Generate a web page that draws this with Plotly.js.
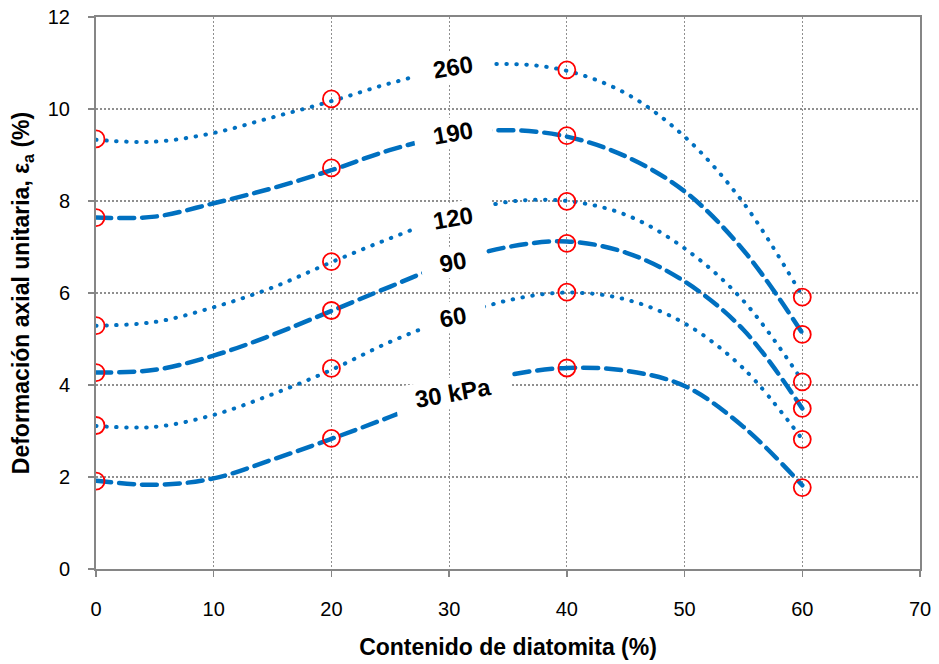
<!DOCTYPE html>
<html>
<head>
<meta charset="utf-8">
<script src="https://cdn.plot.ly/plotly-3.0.1.min.js"></script>
<style>
  html, body { margin: 0; padding: 0; background: #fff; }
  #chart { width: 939px; height: 664px; }
  .js-line { stroke-linecap: round; }
</style>
</head>
<body>
<div id="chart"></div>
<script>
// Measured points (red circles)
const pointX = [0, 20, 40, 60];
const pts260 = [9.35, 10.22, 10.85, 5.91];
const pts190 = [7.64, 8.72, 9.42, 5.10];
const pts120 = [5.29, 6.68, 7.99, 4.07];
const pts90  = [4.27, 5.62, 7.08, 3.49];
const pts60  = [3.12, 4.36, 6.02, 2.82];
const pts30  = [1.91, 2.84, 4.37, 1.77];

// Trend curves
const curveX = [0, 5, 10, 15, 20, 25, 30, 35, 40, 45, 50, 55, 60];
const curve260 = [9.33, 9.29, 9.48, 9.82, 10.17, 10.56, 10.87, 10.98, 10.83, 10.34, 9.40, 7.96, 5.93];
const curve190 = [7.64, 7.66, 7.95, 8.28, 8.67, 9.11, 9.42, 9.54, 9.40, 8.97, 8.21, 6.93, 5.13];
const curve120 = [5.29, 5.37, 5.69, 6.12, 6.67, 7.19, 7.66, 7.98, 8.00, 7.70, 6.97, 5.83, 4.09];
const curve90  = [4.27, 4.33, 4.64, 5.09, 5.61, 6.14, 6.65, 7.00, 7.12, 6.88, 6.25, 5.20, 3.49];
const curve60  = [3.11, 3.09, 3.35, 3.80, 4.33, 4.94, 5.44, 5.84, 6.01, 5.86, 5.34, 4.36, 2.82];
const curve30  = [1.92, 1.83, 1.97, 2.38, 2.83, 3.31, 3.82, 4.21, 4.37, 4.31, 3.98, 3.09, 1.82];

const seriesNames = ['260', '190', '120', '90', '60', '30 kPa'];
const xTicks = [0, 10, 20, 30, 40, 50, 60, 70];
const yTicks = [0, 2, 4, 6, 8, 10, 12];

const curves = [curve260, curve190, curve120, curve90, curve60, curve30];
const points = [pts260, pts190, pts120, pts90, pts60, pts30];
const dotted = [true, false, true, false, true, false];

const BLUE = '#0070C0';
const traces = [];
curves.forEach((c, i) => {
  traces.push({
    x: curveX, y: c, type: 'scatter', mode: 'lines',
    line: { color: BLUE, width: dotted[i] ? 4 : 4.5, shape: 'spline', smoothing: 1,
            dash: dotted[i] ? '0.5px,9.5px' : '15px,8px' },
    hoverinfo: 'skip', showlegend: false
  });
});
points.forEach((p, i) => {
  traces.push({
    x: pointX, y: p, type: 'scatter', mode: 'markers',
    marker: { symbol: 'circle-open', size: 17, color: '#FF0000', line: { color: '#FF0000', width: 1.8 } },
    name: seriesNames[i], showlegend: false
  });
});

// label anchors (data units)
const labelX = [30.3, 30.3, 30.3, 30.3, 30.3, 30.3];
const labelY = [10.91, 9.48, 7.64, 6.67, 5.48, 3.83];
const labelW = [78, 78, 78, 64, 66, 116];

const FONT = 'Liberation Sans, Arial, sans-serif';
const annotations = seriesNames.map((t, i) => ({
  x: labelX[i], y: labelY[i], xref: 'x', yref: 'y', text: t, showarrow: false,
  textangle: -10, bgcolor: '#ffffff', width: labelW[i], height: 30, borderpad: 0,
  font: { family: FONT, size: 24, color: '#000', weight: 'bold' }
}));

const axisCommon = {
  showline: true, linecolor: '#868686', linewidth: 2, mirror: true,
  showgrid: true, gridcolor: '#8f8f8f', gridwidth: 1.2, griddash: '2px,2px',
  zeroline: false, ticks: 'outside', ticklen: 6, tickwidth: 1.5, tickcolor: '#868686',
  tickfont: { family: FONT, size: 20, color: '#000' }
};

const layout = {
  width: 939, height: 664,
  margin: { l: 96, r: 19, t: 17, b: 95 },
  paper_bgcolor: '#fff', plot_bgcolor: '#fff',
  font: { family: FONT },
  xaxis: Object.assign({}, axisCommon, {
    range: [0, 70], tickvals: xTicks, ticklabelstandoff: 15,
    title: { text: 'Contenido de diatomita (%)', standoff: 20,
             font: { family: FONT, size: 23, color: '#000', weight: 'bold' } }
  }),
  yaxis: Object.assign({}, axisCommon, {
    range: [0, 12], tickvals: yTicks, ticklabelstandoff: 14,
    title: { text: 'Deformación axial unitaria, ε<sub>a</sub> (%)', standoff: 12,
             font: { family: FONT, size: 23, color: '#000', weight: 'bold' } }
  }),
  annotations: annotations,
  showlegend: false
};

Plotly.newPlot('chart', traces, layout, { displayModeBar: false, staticPlot: true });
</script>
</body>
</html>
